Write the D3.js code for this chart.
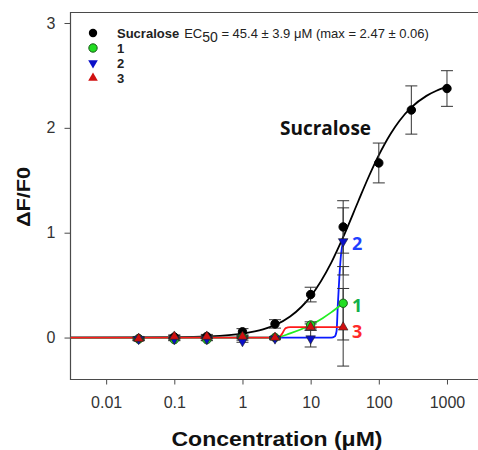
<!DOCTYPE html>
<html><head><meta charset="utf-8">
<script src="https://cdn.jsdelivr.net/npm/d3@7"></script>
<style>body{margin:0;background:#fff;}svg{display:block;font-family:"Liberation Sans",Arial,sans-serif;}</style>
</head><body><svg id="c" width="478" height="450"></svg>
<script>
// ---- data ----
const concentrations = [0.03, 0.1, 0.3, 1, 3, 10, 30, 100, 300, 1000];
const sucraloseMean = [-0.01, 0.005, 0.01, 0.055, 0.13, 0.41, 1.055, 1.665, 2.17, 2.375];
const sucraloseErr  = [0.02, 0.02, 0.02, 0.03, 0.04, 0.07, 0.25, 0.19, 0.23, 0.17];
const compoundConc = [0.03, 0.1, 0.3, 1, 3, 10, 30];
const compound1Mean = [-0.015, -0.02, -0.02, 0.0, 0.0, 0.12, 0.327];
const compound1Err  = [0.01, 0.01, 0.01, 0.01, 0.01, 0.03, 0.35];
const compound2Mean = [-0.015, -0.015, -0.015, -0.035, -0.01, -0.01, 0.917];
const compound2Err  = [0.01, 0.01, 0.01, 0.01, 0.01, 0.08, 0.32];
const compound3Mean = [-0.01, 0.01, 0.01, 0.01, 0.0, 0.1, 0.098];
const compound3Err  = [0.01, 0.01, 0.01, 0.01, 0.01, 0.03, 0.37];
// fitted curves
const sucraloseFitX = [0.003, 0.03, 0.1, 0.3, 1, 2, 3, 5, 10, 20, 30, 50, 70, 100, 150, 200, 300, 500, 700, 1000];
const sucraloseFitY = [0, 0.001, 0.003, 0.01, 0.037, 0.077, 0.118, 0.2, 0.393, 0.713, 0.958, 1.3, 1.524, 1.74, 1.947, 2.066, 2.195, 2.305, 2.354, 2.39];
const compound1FitX = [0.003, 1, 3, 5, 10, 15, 20, 30];
const compound1FitY = [0, 0, 0.0, 0.04, 0.12, 0.185, 0.24, 0.327];
const compound2FitX = [0.003, 1, 10, 20, 22.5, 24, 25, 26.5, 28, 30];
const compound2FitY = [0, 0, 0, 0, 0.01, 0.06, 0.3, 0.6, 0.8, 0.917];
const compound3FitX = [0.003, 1, 3.4, 3.8, 4.3, 5, 10, 30];
const compound3FitY = [0, 0, 0, 0.035, 0.09, 0.1, 0.1, 0.1];
const xTicks = [0.01, 0.1, 1, 10, 100, 1000];
const xTickLabels = ["0.01", "0.1", "1", "10", "100", "1000"];
const yTicks = [0, 1, 2, 3];

// ---- chart ----
const svg = d3.select("#c");
const x = d3.scaleLog().domain([0.003, 3000]).range([70.5, 479.5]);
const y = d3.scaleLinear().domain([-0.4, 3.1]).range([379.5, 12.5]);
const axisColor = "#4a4a4a";

// axes
const gx = svg.append("g").attr("transform", "translate(0,379.5)")
  .call(d3.axisBottom(x).tickValues(xTicks).tickFormat((d,i)=>xTickLabels[i]).tickSizeOuter(0).tickSize(5).tickPadding(12));
gx.select(".domain").remove();
gx.selectAll("line").attr("stroke", axisColor);
gx.selectAll("text").attr("font-size", 16).attr("fill", "#333").attr("font-family","Liberation Sans, Arial, sans-serif");

const gy = svg.append("g").attr("transform", "translate(70.5,0)")
  .call(d3.axisLeft(y).tickValues(yTicks).tickFormat(d3.format("d")).tickSizeOuter(0).tickSize(6).tickPadding(9));
gy.select(".domain").remove();
gy.selectAll("line").attr("stroke", axisColor);
gy.selectAll("text").attr("font-size", 16).attr("fill", "#333").attr("font-family","Liberation Sans, Arial, sans-serif");

// frame (top, left, bottom; right edge is off-picture)
svg.append("path").attr("fill","none").attr("stroke",axisColor).attr("stroke-width",1.2)
  .attr("d", `M478,${y(3.1)}H${x(0.003)}V${y(-0.4)}H478`);

// axis titles
svg.append("text").attr("x", 277).attr("y", 446).attr("text-anchor","middle")
  .attr("font-size", 20).attr("font-weight","bold").attr("fill","#111")
  .attr("textLength", 211).attr("lengthAdjust","spacingAndGlyphs")
  .text("Concentration (μM)");
svg.append("text").attr("transform","translate(30,197) rotate(-90)").attr("text-anchor","middle")
  .attr("font-size", 18).attr("font-weight","bold").attr("fill","#111")
  .attr("textLength", 60).attr("lengthAdjust","spacingAndGlyphs")
  .text("ΔF/F0");

// curves
const line = d3.line().x(d=>x(d[0])).y(d=>y(d[1])).curve(d3.curveMonotoneX);
const zip = (a,b)=>a.map((v,i)=>[v,b[i]]);
svg.append("path").attr("d", line(zip(sucraloseFitX, sucraloseFitY))).attr("fill","none").attr("stroke","#000").attr("stroke-width",1.8);
svg.append("path").attr("d", line(zip(compound2FitX, compound2FitY))).attr("fill","none").attr("stroke","#0a1aff").attr("stroke-width",1.8);
svg.append("path").attr("d", line(zip(compound1FitX, compound1FitY))).attr("fill","none").attr("stroke","#22ee22").attr("stroke-width",1.8);
svg.append("path").attr("d", line(zip(compound3FitX, compound3FitY))).attr("fill","none").attr("stroke","#ff1a1a").attr("stroke-width",1.8);

// error bars
function errBars(xs, ms, es, color) {
  const g = svg.append("g").attr("stroke", color).attr("stroke-width", 1).attr("fill","none");
  xs.forEach((c,i)=>{
    const px = x(c), t = y(ms[i]+es[i]), b = y(ms[i]-es[i]);
    g.append("path").attr("d", `M${px},${t}V${b}M${px-6},${t}H${px+6}M${px-6},${b}H${px+6}`);
  });
}
errBars(concentrations, sucraloseMean, sucraloseErr, "#333");
errBars(compoundConc, compound1Mean, compound1Err, "#333");
errBars(compoundConc, compound2Mean, compound2Err, "#333");
errBars(compoundConc, compound3Mean, compound3Err, "#333");

// markers
const triDown = d3.symbol().type(d3.symbolTriangle).size(40);
function drawCircles(xs, ms, fill, stroke) {
  svg.append("g").selectAll("circle").data(xs).join("circle")
    .attr("cx", d=>x(d)).attr("cy", (d,i)=>y(ms[i])).attr("r", 4.2)
    .attr("fill", fill).attr("stroke", stroke).attr("stroke-width", 1);
}
function drawTris(xs, ms, fill, down) {
  svg.append("g").selectAll("path").data(xs).join("path")
    .attr("d", triDown).attr("transform", (d,i)=>`translate(${x(d)},${y(ms[i])}) rotate(${down?180:0})`)
    .attr("fill", fill).attr("stroke", "#222").attr("stroke-width", 0.6);
}
drawCircles(concentrations, sucraloseMean, "#000", "#000");
drawCircles(compoundConc, compound1Mean, "#22dd22", "#1a5a1a");
drawTris(compoundConc, compound2Mean, "#0a10c8", true);
drawTris(compoundConc, compound3Mean, "#d01010", false);

// legend
const lg = svg.append("g").attr("font-size", 13).attr("fill","#222");
const lx = 93, ly = [33, 48, 63, 78];
lg.append("circle").attr("cx", lx).attr("cy", ly[0]).attr("r", 4.2).attr("fill","#000");
lg.append("circle").attr("cx", lx).attr("cy", ly[1]).attr("r", 4.2).attr("fill","#22dd22").attr("stroke","#1a5a1a");
lg.append("path").attr("d", triDown).attr("transform", `translate(${lx},${ly[2]}) rotate(180)`).attr("fill","#0a10c8");
lg.append("path").attr("d", triDown).attr("transform", `translate(${lx},${ly[3]})`).attr("fill","#d01010");
const t0 = lg.append("text").attr("x", 117).attr("y", ly[0]+4.5);
t0.append("tspan").attr("font-weight","bold").text("Sucralose");
t0.append("tspan").attr("dx", 5).text("EC");
t0.append("tspan").attr("font-size", 14).attr("dy", 4).text("50");
t0.append("tspan").attr("dy", -4).text(" =  45.4 ± 3.9 μM (max = 2.47 ± 0.06)");
["1","2","3"].forEach((s,i)=>{
  lg.append("text").attr("x", 117).attr("y", ly[i+1]+4.5).attr("font-weight","bold").text(s);
});

// annotations
const ann = svg.append("g").attr("font-family","Open Sans, sans-serif").attr("font-weight","bold");
ann.append("text").attr("x", 280).attr("y", 135).attr("font-size", 19).attr("fill","#111").text("Sucralose");
ann.append("text").attr("x", 352).attr("y", 250).attr("font-size", 18).attr("fill","#1f3fff").text("2");
ann.append("text").attr("x", 352).attr("y", 311.5).attr("font-size", 18).attr("fill","#12b04a").text("1");
ann.append("text").attr("x", 352).attr("y", 337.5).attr("font-size", 18).attr("fill","#ff2a2a").text("3");
</script></body></html>
